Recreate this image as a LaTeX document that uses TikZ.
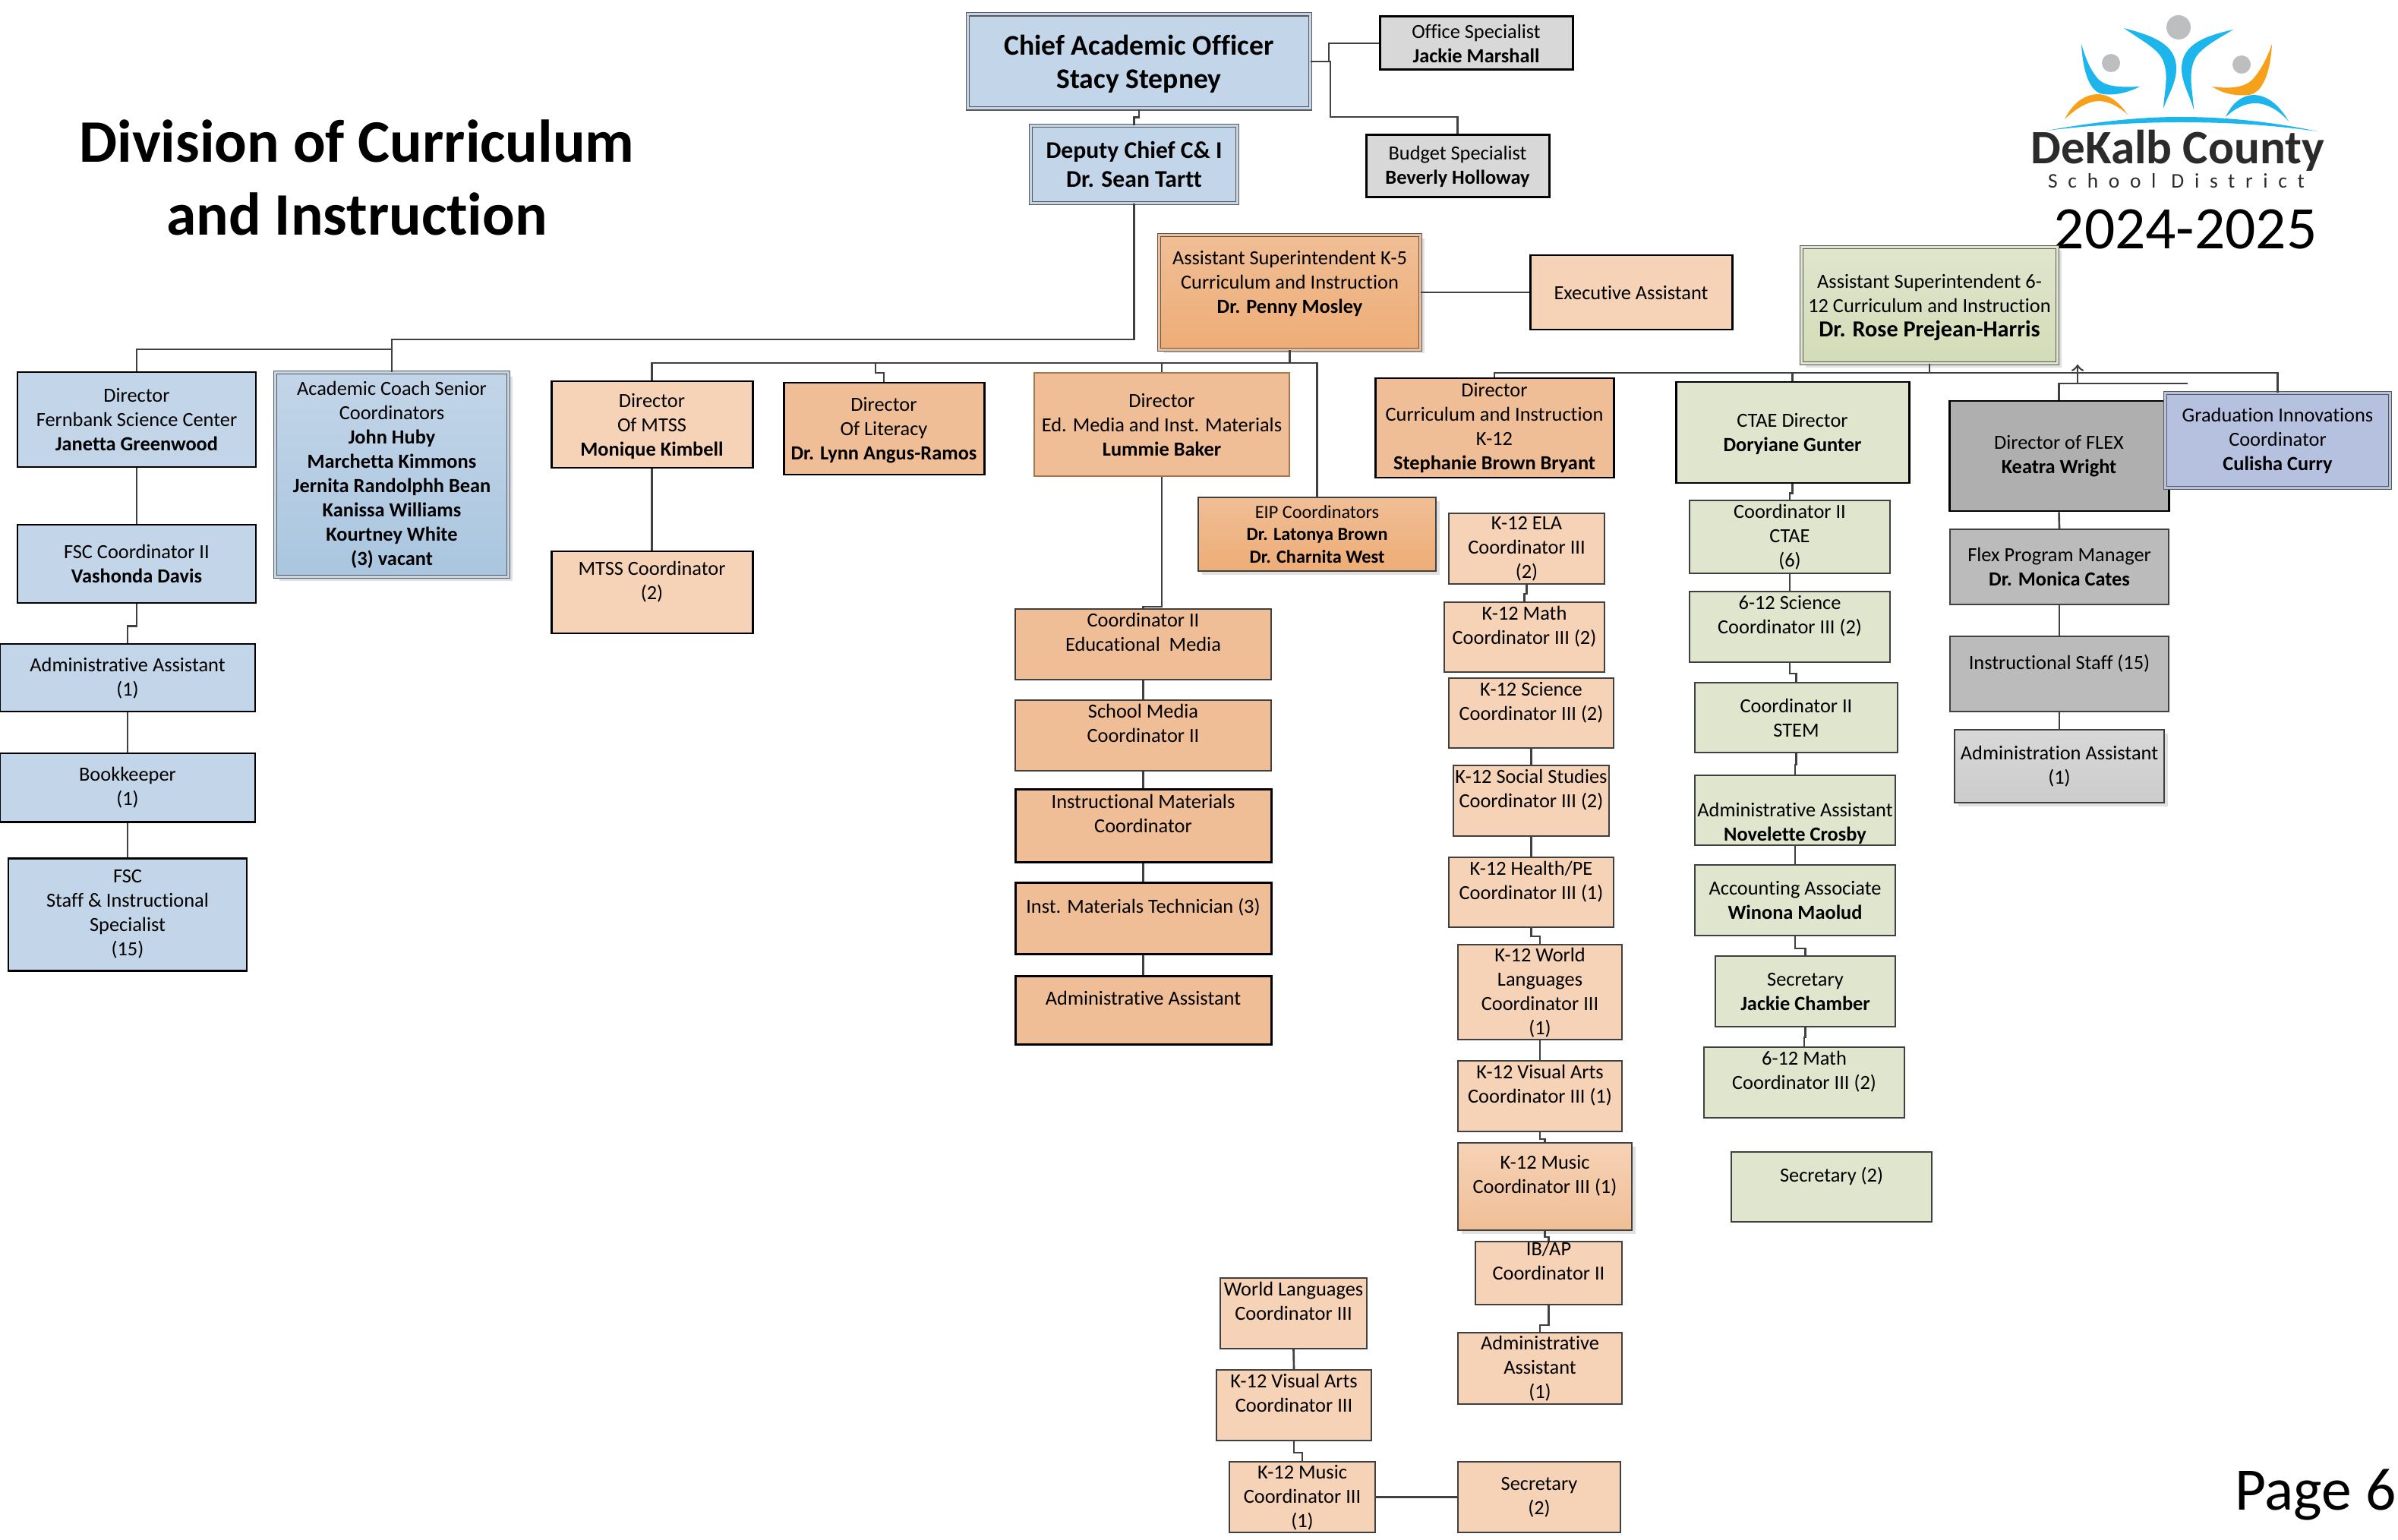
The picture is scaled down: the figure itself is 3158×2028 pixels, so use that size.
\documentclass[tikz,border=0pt]{standalone}
\usepackage{fontspec}
\setmainfont[Ligatures=NoCommon]{Carlito}
\newfontfamily\logospaced[LetterSpace=50]{Carlito}
\usetikzlibrary{shadows}

\definecolor{orgblue}{HTML}{C3D5E8}
\definecolor{orgbluedark}{HTML}{A9C6DF}
\definecolor{orgpeach}{HTML}{F6D3B6}
\definecolor{orgorange}{HTML}{F0BE96}
\definecolor{orgorangedark}{HTML}{EEAD76}
\definecolor{orggreen}{HTML}{E0E5CD}
\definecolor{orggreendark}{HTML}{D3DCB7}
\definecolor{orggray}{HTML}{D8D8D8}
\definecolor{orggraymid}{HTML}{BBBBBB}
\definecolor{orggraydark}{HTML}{AFAFAF}
\definecolor{orgpurple}{HTML}{B6C1DF}
\definecolor{logoblue}{HTML}{1DB6EC}
\definecolor{logoorange}{HTML}{F7A11A}
\definecolor{logogray}{HTML}{BCBEC0}
\definecolor{logotext}{HTML}{2B2B2B}

\tikzset{
    box/.style={draw=black!75, rectangle, inner sep=0pt, align=center, line width=0.55pt,
        font=\fontsize{7.5}{9.1}\selectfont, text depth=-1.1pt},
    lowline/.style={text depth=0.9pt},
    sz/.style 2 args={minimum width=#1*0.01cm, minimum height=#2*0.01cm},
    heavy/.style={draw=black, line width=0.85pt},
    dbl/.style={double=#1, double distance=0.03cm, line width=0.35pt, draw=black!65},
    softshadow/.style={drop shadow={shadow xshift=0.05cm, shadow yshift=-0.05cm, fill=black, opacity=0.12}},
    bluebox/.style={box, fill=orgblue},
    peachbox/.style={box, fill=orgpeach},
    orangebox/.style={box, fill=orgorange},
    greenbox/.style={box, fill=orggreen},
    graybox/.style={box, fill=orggraymid},
    conn/.style={draw=black!75, line width=0.75pt},
    jog/.style={to path={-- ++(0,#1) -| (\tikztotarget)}},
    bigtext/.style={inner sep=0pt, align=center, font=\fontsize{22.6}{27.3}\selectfont}
}

\begin{document}
\begin{tikzpicture}[x=0.01cm, y=-0.01cm]
    \useasboundingbox (0,0) rectangle (3158,2028);

    % Title and page texts
    \node [bigtext] (title) at (470,234) {\textbf{Division of Curriculum}\\\textbf{and Instruction}};
    \node [bigtext, anchor=base] (years) at (2878,328) {2024-2025};
    \node [bigtext, anchor=base east] (pagenum) at (3156,1988) {Page 6};

    % Logo
    \fill [logogray] (2869,36) circle (16) (2780,83) circle (12) (2952,85) circle (12);
    \fill [logoblue] (2797,37) .. controls (2835,47) and (2866,58) .. (2866,90) .. controls (2866,110) and (2855,125) .. (2849,143)
        .. controls (2850,120) and (2858,95) .. (2846,75) .. controls (2838,62) and (2815,50) .. (2797,37) -- cycle;
    \fill [logoblue] (2941,39) .. controls (2905,47) and (2873,58) .. (2873,90) .. controls (2873,110) and (2884,125) .. (2889,145)
        .. controls (2888,120) and (2880,95) .. (2892,75) .. controls (2900,62) and (2923,50) .. (2941,39) -- cycle;
    \fill [logoblue] (2741,58) .. controls (2743,95) and (2752,122) .. (2770,124) .. controls (2790,126) and (2806,120) .. (2818,114)
        .. controls (2795,115) and (2775,115) .. (2764,105) .. controls (2752,92) and (2746,75) .. (2741,58) -- cycle;
    \fill [logoorange] (2719,157) .. controls (2730,135) and (2745,125) .. (2762,124) .. controls (2780,124) and (2793,138) .. (2802,151)
        .. controls (2790,140) and (2778,134) .. (2765,133) .. controls (2750,133) and (2735,142) .. (2719,157) -- cycle;
    \fill [logoorange] (2992,58) .. controls (2990,95) and (2980,122) .. (2962,125) .. controls (2942,127) and (2925,122) .. (2913,114)
        .. controls (2935,117) and (2955,116) .. (2966,105) .. controls (2978,92) and (2986,75) .. (2992,58) -- cycle;
    \fill [logoblue] (2931,154) .. controls (2940,135) and (2952,126) .. (2967,125) .. controls (2988,125) and (3004,142) .. (3014,160)
        .. controls (3002,146) and (2986,136) .. (2970,136) .. controls (2955,136) and (2942,144) .. (2931,154) -- cycle;
    \fill [logoblue] (2695,172) .. controls (2780,157) and (2830,154) .. (2872,154) .. controls (2920,154) and (2980,158) .. (3052,173)
        .. controls (2980,163) and (2920,161) .. (2872,161) .. controls (2830,161) and (2770,163) .. (2695,172) -- cycle;
    \node [inner sep=0pt, text=logotext, font=\fontsize{17.95}{20}\selectfont\bfseries, anchor=base] (logoname) at (2868,216) {DeKalb County};
    \node [inner sep=0pt, text=logotext, font=\fontsize{7.8}{9}\selectfont\logospaced, anchor=base] (logosub) at (2866,248) {School District};

    % Top of the division
    \node [bluebox, dbl=orgblue, sz={451}{124}, font=\fontsize{10.7}{12.5}\selectfont] (chief) at (1500,81) {\textbf{Chief Academic Officer}\\\textbf{Stacy Stepney}};
    \node [bluebox, dbl=orgblue, sz={272}{102}, font=\fontsize{9}{10.8}\selectfont] (deputy) at (1493.5,216.5) {\textbf{Deputy Chief C\& I}\\\textbf{Dr. Sean Tartt}};
    \node [box, heavy, fill=orggray, sz={254}{70}] (office) at (1944,57) {Office Specialist\\\textbf{Jackie Marshall}};
    \node [box, heavy, lowline, fill=orggray, sz={241}{82}] (budget) at (1919.5,219) {Budget Specialist\\\textbf{Beverly Holloway}};

    % Fernbank column
    \node [bluebox, heavy, sz={314}{125}] (fernbank) at (180,552.5) {Director\\Fernbank Science Center\\\textbf{Janetta Greenwood}};
    \node [bluebox, heavy, sz={314}{103}] (fsccoord) at (180,742.5) {FSC Coordinator II\\\textbf{Vashonda Davis}};
    \node [bluebox, heavy, lowline, sz={336}{89}] (fscadmin) at (168,892.5) {Administrative Assistant\\(1)};
    \node [bluebox, heavy, lowline, sz={336}{90}] (bookkeeper) at (168,1037) {Bookkeeper\\(1)};
    \node [bluebox, heavy, lowline, sz={314}{148}] (fscstaff) at (168,1204) {FSC\\Staff \& Instructional\\Specialist\\(15)};
    \node [box, lowline, dbl=orgblue, top color=orgblue, bottom color=orgbluedark, softshadow, sz={307}{269}] (academic) at (516,625) {Academic Coach Senior\\Coordinators\\\textbf{John Huby}\\\textbf{Marchetta Kimmons}\\\textbf{Jernita Randolphh Bean}\\\textbf{Kanissa Williams}\\\textbf{Kourtney White}\\\textbf{(3) vacant}};

    % K-5 side
    \node [box, dbl=orgorange, top color=orgorange, bottom color=orgorangedark, softshadow, sz={344}{151}] (k5) at (1698.5,385) {Assistant Superintendent K-5\\Curriculum and Instruction\\\textbf{Dr. Penny Mosley}\\[-1.2pt]~};
    \node [peachbox, heavy, sz={266}{98}] (exec) at (2148,385) {Executive Assistant};
    \node [peachbox, heavy, sz={265}{114}] (mtssdir) at (858.5,559) {Director\\Of MTSS\\\textbf{Monique Kimbell}};
    \node [peachbox, heavy, sz={265}{108}] (mtsscoord) at (858.5,780) {MTSS Coordinator\\(2)\\~};
    \node [orangebox, heavy, sz={264}{121}] (literacy) at (1164,564.5) {Director\\Of Literacy\\\textbf{Dr. Lynn Angus-Ramos}};
    \node [orangebox, draw=orange!50!black!70, sz={336}{136}] (edmedia) at (1530,559) {Director\\Ed. Media and Inst. Materials\\\textbf{Lummie Baker}};
    \node [box, top color=orgorange, bottom color=orgorangedark, softshadow, sz={313}{97}, font=\fontsize{6.9}{8.3}\selectfont] (eip) at (1734.5,703.5) {EIP Coordinators\\\textbf{Dr. Latonya Brown}\\\textbf{Dr. Charnita West}};
    \node [orangebox, heavy, lowline, sz={314}{131}] (dirci) at (1968,563.5) {Director\\Curriculum and Instruction\\K-12\\\textbf{Stephanie Brown Bryant}};

    % Educational media column
    \node [orangebox, sz={337}{93}] (coordem) at (1505.5,848.5) {Coordinator II\\Educational\ \ Media\\~};
    \node [orangebox, sz={337}{93}] (schoolmedia) at (1505.5,968.5) {School Media\\Coordinator II\\~};
    \node [orangebox, heavy, sz={337}{96}] (instmat) at (1505.5,1087) {Instructional Materials\\Coordinator\\~};
    \node [orangebox, heavy, sz={337}{94}] (insttech) at (1505.5,1209) {Inst. Materials Technician (3)\\~};
    \node [orangebox, heavy, sz={337}{90}] (emadmin) at (1505.5,1330) {Administrative Assistant\\~};

    % K-12 coordinators column
    \node [peachbox, lowline, sz={205}{93}] (ela) at (2010.5,722.5) {K-12 ELA\\Coordinator III\\(2)};
    \node [peachbox, sz={211}{92}] (math) at (2007.5,839) {K-12 Math\\Coordinator III (2)\\~};
    \node [peachbox, sz={217}{92}] (science) at (2016.5,939) {K-12 Science\\Coordinator III (2)\\~};
    \node [peachbox, sz={205}{93}] (social) at (2016.5,1054.5) {K-12 Social Studies\\Coordinator III (2)\\~};
    \node [peachbox, sz={217}{92}] (health) at (2016.5,1175) {K-12 Health/PE\\Coordinator III (1)\\~};
    \node [peachbox, lowline, sz={216}{125}] (world) at (2028,1306.5) {K-12 World\\Languages\\Coordinator III\\(1)};
    \node [peachbox, sz={216}{93}] (visual) at (2028,1443.5) {K-12 Visual Arts\\Coordinator III (1)\\~};
    \node [box, top color=orgpeach, bottom color=orgorange, softshadow, sz={229}{115}] (music) at (2034.5,1562.5) {K-12 Music\\Coordinator III (1)\\~};
    \node [peachbox, sz={193}{83}] (ibap) at (2039.5,1676.5) {IB/AP\\Coordinator II\\~};
    \node [peachbox, lowline, sz={216}{94}] (k12admin) at (2028,1802) {Administrative\\Assistant\\(1)};
    \node [peachbox, sz={193}{93}] (worldlang) at (1703.5,1729.5) {World Languages\\Coordinator III\\~};
    \node [peachbox, sz={204}{93}] (visualart) at (1704,1850.5) {K-12 Visual Arts\\Coordinator III\\~};
    \node [peachbox, lowline, sz={192}{93}] (musiccoord) at (1715,1971.5) {K-12 Music\\Coordinator III\\(1)};
    \node [peachbox, lowline, sz={214}{93}] (musicsec) at (2027,1971.5) {Secretary\\(2)};

    % 6-12 side
    \node [box, dbl=orggreen, top color=orggreen, bottom color=orggreendark, softshadow, sz={337}{153}] (asst612) at (2541,402) {Assistant Superintendent 6-\\12 Curriculum and Instruction\\\fontsize{8.6}{10}\selectfont\textbf{Dr. Rose Prejean-Harris}};
    \node [greenbox, heavy, sz={307}{133}] (ctae) at (2360.5,569.5) {CTAE Director\\\textbf{Doryiane Gunter}};
    \node [greenbox, lowline, sz={264}{96}] (coordctae) at (2357,707) {Coordinator II\\CTAE\\(6)};
    \node [greenbox, sz={264}{93}] (science612) at (2357,825.5) {6-12 Science\\Coordinator III (2)\\~};
    \node [greenbox, sz={267}{92}] (stem) at (2365.5,945) {Coordinator II\\STEM};
    \node [greenbox, lowline, sz={264}{92}] (ctaeadmin) at (2364,1067) {\rule{0pt}{6pt}\\Administrative Assistant\\\textbf{Novelette Crosby}};
    \node [greenbox, sz={264}{93}] (accounting) at (2364,1185.5) {Accounting Associate\\\textbf{Winona Maolud}};
    \node [greenbox, sz={237}{93}] (ctaesec) at (2377.5,1305.5) {Secretary\\\textbf{Jackie Chamber}};
    \node [greenbox, sz={264}{93}] (math612) at (2376,1425.5) {6-12 Math\\Coordinator III (2)\\~};
    \node [greenbox, sz={264}{92}] (sec612) at (2412,1563) {Secretary (2)\\~};

    \node [box, heavy, lowline, fill=orggraydark, sz={289}{145}] (flexdir) at (2711.5,600.5) {Director of FLEX\\\textbf{Keatra Wright}};
    \node [graybox, sz={288}{99}] (flexmgr) at (2712,746.5) {Flex Program Manager\\\textbf{Dr. Monica Cates}};
    \node [graybox, sz={288}{99}] (flexstaff) at (2712,887.5) {Instructional Staff (15)\\~};
    \node [box, lowline, top color=orggray, bottom color=orggraymid!75!white, softshadow, sz={276}{96}] (flexadmin) at (2712,1009) {Administration Assistant\\(1)};
    \node [box, lowline, dbl=orgpurple, fill=orgpurple, sz={296}{125}] (grad) at (2999.5,580) {Graduation Innovations\\Coordinator\\\textbf{Culisha Curry}};

    % Bends on the long lines
    \coordinate (budgetbend) at (1752,154);
    \coordinate (divbus) at (516,447);
    \coordinate (fernbus) at (516,460);
    \coordinate (k5bus) at (1698.5,478);
    \coordinate (litjog) at (1153,491);
    \coordinate (bus612) at (2541,491);
    \coordinate (flexstub) at (2881,505);
    \coordinate (flexup) at (2736,505);
    \coordinate (flextip) at (2736,480);
    \coordinate (emjog) at (1505.5,799);

    % Paths
    \path [conn] (chief.east) -| (budgetbend) -| (budget.north);
    \path [conn] (chief.east) -- ++(24,0) |- (office.west);
    \path [conn] (chief.south) to [jog=11] (deputy.north);
    \path [conn] (deputy.south) |- (divbus) -- (academic.north);
    \path [conn] (fernbus) -| (fernbank.north);
    \path [conn] (fernbank.south) -- (fsccoord.north);
    \path [conn] (fsccoord.south) to [jog=29] (fscadmin.north);
    \path [conn] (fscadmin.south) -- (bookkeeper.north);
    \path [conn] (bookkeeper.south) -- (fscstaff.north);

    \path [conn] (k5.south) -- (k5bus);
    \path [conn] (k5bus) -| (mtssdir.north);
    \path [conn] (k5bus) -| (eip.north);
    \path [conn] (k5.east) -- (exec.west);
    \path [conn] (mtssdir.south) -- (mtsscoord.north);
    \path [conn] (litjog|-k5bus) -- (litjog) -| (literacy.north);
    \path [conn] (edmedia.north|-k5bus) -- (edmedia.north);
    \path [conn] (edmedia.south) |- (emjog) -- (coordem.north);
    \path [conn] (coordem.south) -- (schoolmedia.north);
    \path [conn] (schoolmedia.south) -- (instmat.north);
    \path [conn] (instmat.south) -- (insttech.north);
    \path [conn] (insttech.south) -- (emadmin.north);

    \path [conn] (ela.south) to [jog=12] (math.north);
    \path [conn] (science.south) -- (social.north);
    \path [conn] (social.south) -- (health.north);
    \path [conn] (health.south) to [jog=11] (world.north);
    \path [conn] (world.south) -- (visual.north);
    \path [conn] (visual.south) to [jog=9] (music.north);
    \path [conn] (music.south) to [jog=8] (ibap.north);
    \path [conn] (ibap.south) to [jog=26] (k12admin.north);
    \path [conn] (worldlang.south) -- (visualart.north);
    \path [conn] (visualart.south) to [jog=15] (musiccoord.north);
    \path [conn] (musiccoord.east) -- (musicsec.west);

    \path [conn] (asst612.south) -- (bus612);
    \path [conn] (dirci.north) |- (bus612) -| (grad.north);
    \path [conn] (ctae.north|-bus612) -- (ctae.north);
    \path [conn] (ctae.south) to [jog=12] (coordctae.north);
    \path [conn] (coordctae.south) -- (science612.north);
    \path [conn] (science612.south) to [jog=14] (stem.north);
    \path [conn] (stem.south) to [jog=15] (ctaeadmin.north);
    \path [conn] (ctaeadmin.south) -- (accounting.north);
    \path [conn] (accounting.south) to [jog=16] (ctaesec.north);
    \path [conn] (ctaesec.south) to [jog=13] (math612.north);
    \path [conn] (flexdir.north) |- (flexstub);
    \path [conn, ->] (flexup) -- (flextip);
    \path [conn] (flexdir.south) -- (flexmgr.north);
    \path [conn] (flexmgr.south) -- (flexstaff.north);
    \path [conn] (flexstaff.south) -- (flexadmin.north);
\end{tikzpicture}
\end{document}
